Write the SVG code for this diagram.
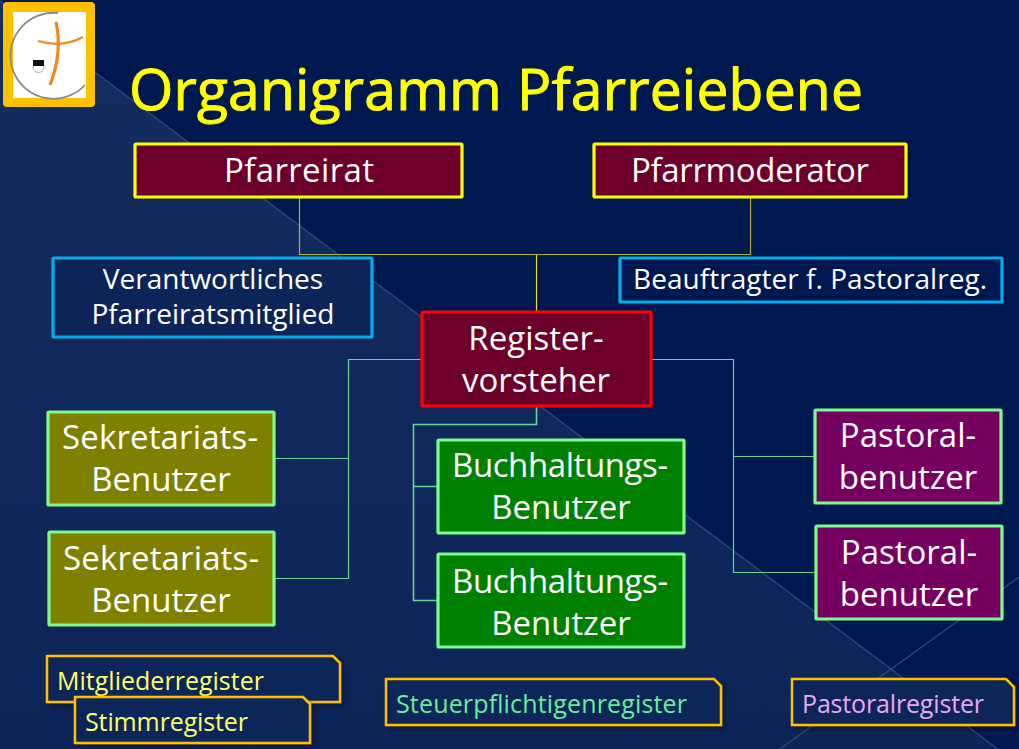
<svg xmlns="http://www.w3.org/2000/svg" width="1019" height="749" viewBox="0 0 1019 749">
<style>
text{font-family:"Open Sans","Noto Sans","Liberation Sans",sans-serif;text-anchor:middle;fill:#fff}
.n{font-size:33px}.b{font-size:28px}
.c{fill:none;stroke-width:1.2}
.y{stroke:#b4b410}.g{stroke:#66d492}
.r{font-size:25px;text-anchor:start}
.tag{fill:#10265a;stroke:#ffc000;stroke-width:2.5}
.box{stroke-width:3.2}
</style>
<defs>
<linearGradient id="lt" x1="0" y1="0" x2="0" y2="1"><stop offset="0" stop-color="#142c5e"/><stop offset="1" stop-color="#0d2459"/></linearGradient>
<filter id="s" x="-5%" y="-10%" width="115%" height="130%"><feDropShadow dx="3" dy="3" stdDeviation="3" flood-color="#000" flood-opacity=".35"/></filter>
</defs>
<rect width="1019" height="749" fill="#001850"/>
<path d="M0 1 L1019 765 V749 H0Z" fill="url(#lt)"/>
<path d="M0 1 L1019 765" stroke="#34497a" stroke-width="1.200" fill="none"/>
<path d="M780 749 L1019 577" stroke="#34497a" stroke-width="1.200" fill="none"/>
<g id="logo">
<rect x="3" y="2" width="92" height="105" rx="4" fill="#ffc000"/>
<rect x="13" y="12" width="73" height="86" fill="#fff"/>
<path d="M58 13 A43 43 0 1 0 85 85" fill="none" stroke="#8a8a8a" stroke-width="1.800"/>
<path d="M56 22 C60 40 59 62 50 85" fill="none" stroke="#ee8a1a" stroke-width="3.200"/>
<path d="M38 41 C55 46 70 44 83 37" fill="none" stroke="#ee8a1a" stroke-width="2.200"/>
<path d="M33 60 h11 v6 h-11z" fill="#111"/>
<path d="M33 66 v1 a5.500 5.500 0 0 0 11 0 v-1" fill="#fff" stroke="#aaa" stroke-width="1"/>
</g>
<text id="title" x="496" y="110" font-size="57" textLength="734" style="fill:#ffff00;stroke:#ffff00;stroke-width:1">Organigramm Pfarreiebene</text>
<g id="connectors">
<path class="c y" d="M299.500 197V254.500H750.500V197"/>
<path class="c" stroke="#e6e600" d="M536.500 255V312"/>
<path class="c g" d="M421 359.500H348.500V578.500H275M348.500 458.500H275"/>
<path class="c g" style="stroke-width:1.600" d="M536.500 407V424.500H413.500V600.500H437M413.500 486.500H437"/>
<path class="c g" d="M651 359.500H733.500V572.500H815M733.500 456.500H814"/>
</g>
<g id="pfarreirat"><rect class="box" x="135" y="144" width="327" height="53" rx="1" fill="#6c002a" stroke="#ffff00"/><text class="n" x="299" y="182" textLength="150">Pfarreirat</text></g>
<g id="pfarrmoderator"><rect class="box" x="594" y="144" width="312" height="53" rx="1" fill="#6c002a" stroke="#ffff00"/><text class="n" x="750" y="182" textLength="238">Pfarrmoderator</text></g>
<g id="verantwortlich"><rect class="box" x="53" y="258" width="319" height="79" rx="1" fill="#0d2459" stroke="#00aeef"/><text class="b" x="213" y="289">Verantwortliches</text><text class="b" x="213" y="324">Pfarreiratsmitglied</text></g>
<g id="beauftragter"><rect class="box" x="620" y="258" width="382" height="44" rx="1" fill="#001850" stroke="#00aeef"/><text class="b" x="810" y="289" textLength="354">Beauftragter f. Pastoralreg.</text></g>
<g id="registervorsteher"><rect class="box" x="422" y="312" width="229" height="94" rx="1" fill="#6c002a" stroke="#ff0000"/><text class="n" x="536" y="350">Register-</text><text class="n" x="536" y="392">vorsteher</text></g>
<g id="sek1"><rect class="box" x="48" y="412" width="226" height="93" rx="1" fill="#808000" stroke="#7dfc8c"/><text class="n" x="160" y="449" textLength="196">Sekretariats-</text><text class="n" x="161" y="491">Benutzer</text></g>
<g id="sek2"><rect class="box" x="49" y="532" width="225" height="93" rx="1" fill="#808000" stroke="#7dfc8c"/><text class="n" x="161" y="570" textLength="196">Sekretariats-</text><text class="n" x="161" y="612">Benutzer</text></g>
<g id="buch1"><rect class="box" x="438" y="440" width="246" height="93" rx="1" fill="#008000" stroke="#7dfc8c"/><text class="n" x="560" y="477" textLength="216">Buchhaltungs-</text><text class="n" x="561" y="519">Benutzer</text></g>
<g id="buch2"><rect class="box" x="438" y="554" width="246" height="93" rx="1" fill="#008000" stroke="#7dfc8c"/><text class="n" x="560" y="593" textLength="216">Buchhaltungs-</text><text class="n" x="561" y="635">Benutzer</text></g>
<g id="past1"><rect class="box" x="815" y="410" width="186" height="93" rx="1" fill="#75005f" stroke="#7dfc8c"/><text class="n" x="908" y="447">Pastoral-</text><text class="n" x="908" y="489">benutzer</text></g>
<g id="past2"><rect class="box" x="816" y="526" width="186" height="93" rx="1" fill="#75005f" stroke="#7dfc8c"/><text class="n" x="909" y="564">Pastoral-</text><text class="n" x="909" y="606">benutzer</text></g>
<g id="mitglieder"><path class="tag" filter="url(#s)" d="M47 656H333L340 663V702H47Z"/><text class="r" x="57" y="690" style="fill:#ffff66" textLength="207">Mitgliederregister</text></g>
<g id="stimm"><path class="tag" filter="url(#s)" d="M75 697H303L310 704V743H75Z"/><text class="r" x="85" y="731" style="fill:#ffff66" textLength="163">Stimmregister</text></g>
<g id="steuer"><path class="tag" filter="url(#s)" d="M386 679H714L721 686V725H386Z"/><text class="r" x="396" y="713" style="fill:#66ee99" textLength="291">Steuerpflichtigenregister</text></g>
<g id="pastoralreg"><path class="tag" filter="url(#s)" d="M792 679H1006L1014 687V725H792Z"/><text class="r" x="802" y="713" style="fill:#e8a8f0" textLength="182">Pastoralregister</text></g>
</svg>
